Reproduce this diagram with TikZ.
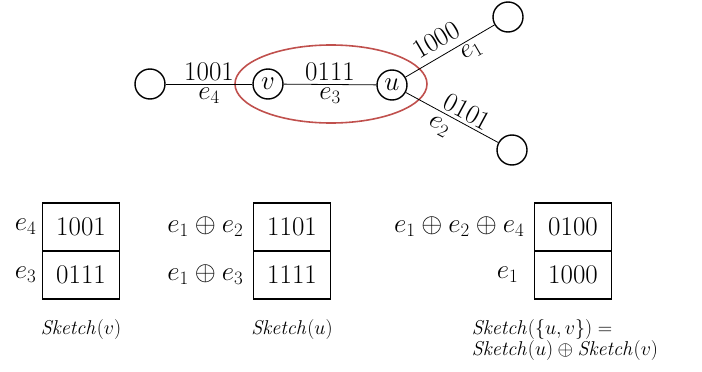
\RequirePackage{fix-cm}
\documentclass[tikz,border=0pt]{standalone}
\usepackage{tikz}
\usepackage{color}
\usetikzlibrary{positioning}

\definecolor{ovalred}{RGB}{192,80,77}

\tikzset{
  vertex/.style={draw, circle, line width=1.4pt, minimum size=30pt, inner sep=0pt},
  edge/.style={line width=0.8pt},
  lab/.style={inner sep=3pt},
  cell/.style={draw, line width=1.6pt, minimum width=77pt, minimum height=48pt,
    inner sep=0pt, outer sep=0pt},
  rowlab/.style={inner sep=2pt},
  caption/.style={font=\fontsize{20}{21}\selectfont, align=left, inner sep=0pt},
}

\begin{document}
\begin{tikzpicture}[%
      x=1pt, y=-1pt,
      font=\fontsize{27}{32}\selectfont,
      ]
      \useasboundingbox (0,0) rectangle (702,372);

      % the graph
      \draw [color=ovalred, line width=1.6pt] (331,84) ellipse [x radius=96, y radius=39];
      \node [vertex] (w) at (150,84) {};
      \node [vertex] (v) at (268,84) {$v$};
      \node [vertex] (u) at (392,85) {$u$};
      \node [vertex] (t) at (508,17) {};
      \node [vertex] (b) at (512,150) {};

      \draw [edge] (w) -- node [lab, above] {1001} node [lab, below] {$e_4$} (v);
      \draw [edge] (v) -- node [lab, above] {0111} node [lab, below] {$e_3$} (u);
      \draw [edge] (u) -- node [lab, sloped, above, pos=0.44, yshift=4pt] {1000}
                          node [lab, sloped, below, pos=0.68] {$e_1$} (t);
      \draw [edge] (u) -- node [lab, sloped, above, pos=0.6] {0101}
                          node [lab, sloped, below, pos=0.43, yshift=-3pt] {$e_2$} (b);

      % Sketch(v)
      \node [cell] (sv1) at (81,227) {1001};
      \node [cell, below=0pt of sv1] (sv2) {0111};
      \node [rowlab, left=4pt of sv1] (sv1lab) {$e_4$};
      \node [rowlab, left=4pt of sv2] (sv2lab) {$e_3$};
      \node [caption, below=20pt of sv2] (svcap) {$\mathit{Sketch}(v)$};

      % Sketch(u)
      \node [cell] (su1) at (292,227) {1101};
      \node [cell, below=0pt of su1] (su2) {1111};
      \node [rowlab, left=8pt of su1] (su1lab) {$e_1 \oplus e_2$};
      \node [rowlab, left=8pt of su2] (su2lab) {$e_1 \oplus e_3$};
      \node [caption, below=20pt of su2] (sucap) {$\mathit{Sketch}(u)$};

      % Sketch({u,v})
      \node [cell] (suv1) at (573,227) {0100};
      \node [cell, below=0pt of suv1] (suv2) {1000};
      \node [rowlab, left=8pt of suv1] (suv1lab) {$e_1 \oplus e_2 \oplus e_4$};
      \node [rowlab, left=14pt of suv2] (suv2lab) {$e_1$};
      \node [caption, below=20pt of suv2, xshift=-8pt] (suvcap)
            {$\mathit{Sketch}(\{u,v\}) =$\\ $\mathit{Sketch}(u) \oplus \mathit{Sketch}(v)$};
\end{tikzpicture}
\end{document}
